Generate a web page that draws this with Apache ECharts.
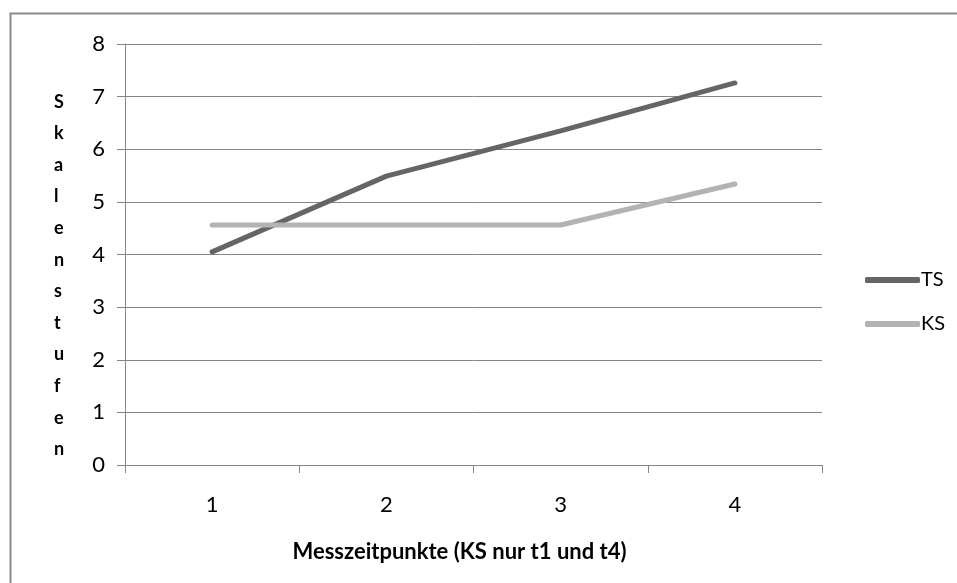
<!DOCTYPE html>
<html><head><meta charset="utf-8">
<script src="https://cdn.jsdelivr.net/npm/echarts@6/dist/echarts.min.js"></script>
<style>html,body{margin:0;padding:0;background:#fff}#c{width:957px;height:583px}</style>
</head><body><div id="c"></div>
<script>
var categories = ['1', '2', '3', '4'];
var tsValues = [4.05, 5.49, 6.35, 7.26];
var ksValues = [4.56, 4.56, 4.56, 5.34];
var seriesNames = ['TS', 'KS'];
var yTitle = 'Skalenstufen';
var xTitle = 'Messzeitpunkte (KS nur t1 und t4)';
var FONT = 'Lato, "Open Sans", sans-serif';
var chart = echarts.init(document.getElementById('c'));
chart.setOption({
  animation: false,
  backgroundColor: '#fff',
  grid: {left: 125, right: 135, top: 44, bottom: 118},
  graphic: [
    {type: 'rect', shape: {x: 10.5, y: 13.5, width: 1000, height: 1000}, style: {fill: 'none', stroke: '#8a8a8a', lineWidth: 2}, z: -1},
    {type: 'text', left: 54, top: 86, style: {text: yTitle.split('').join('\n'), font: 'bold 18px ' + FONT, fill: '#000', lineHeight: 31.6, align: 'center'}}
  ],
  legend: {
    orient: 'vertical', left: 860, top: 265, itemGap: 24, itemWidth: 55, itemHeight: 6,
    icon: 'roundRect',
    textStyle: {fontFamily: FONT, fontSize: 20, color: '#000', padding: [0, 0, 0, -4]},
    data: seriesNames
  },
  xAxis: {
    type: 'category', data: categories, boundaryGap: true,
    axisLine: {lineStyle: {color: '#868686', width: 1}},
    axisTick: {show: true, length: 8, lineStyle: {color: '#868686'}},
    axisLabel: {fontFamily: FONT, fontSize: 22, color: '#000', margin: 29},
    name: xTitle, nameLocation: 'middle', nameGap: 76,
    nameTextStyle: {fontFamily: FONT, fontSize: 22, fontWeight: 'bold', color: '#000', padding: [0, 28, 0, 0]}
  },
  yAxis: {
    type: 'value', min: 0, max: 8, interval: 1,
    axisLine: {show: true, lineStyle: {color: '#868686'}},
    axisTick: {show: true, length: 8, lineStyle: {color: '#868686'}},
    axisLabel: {fontFamily: FONT, fontSize: 22, color: '#000', margin: 20},
    splitLine: {lineStyle: {color: '#868686', width: 1}}
  },
  series: [
    {name: seriesNames[0], type: 'line', data: tsValues, symbol: 'none', color: '#656565',
     lineStyle: {width: 5, color: '#656565', cap: 'round'}},
    {name: seriesNames[1], type: 'line', data: ksValues, symbol: 'none', color: '#b3b3b3',
     lineStyle: {width: 5, color: '#b3b3b3', cap: 'round'}}
  ]
});
</script></body></html>
